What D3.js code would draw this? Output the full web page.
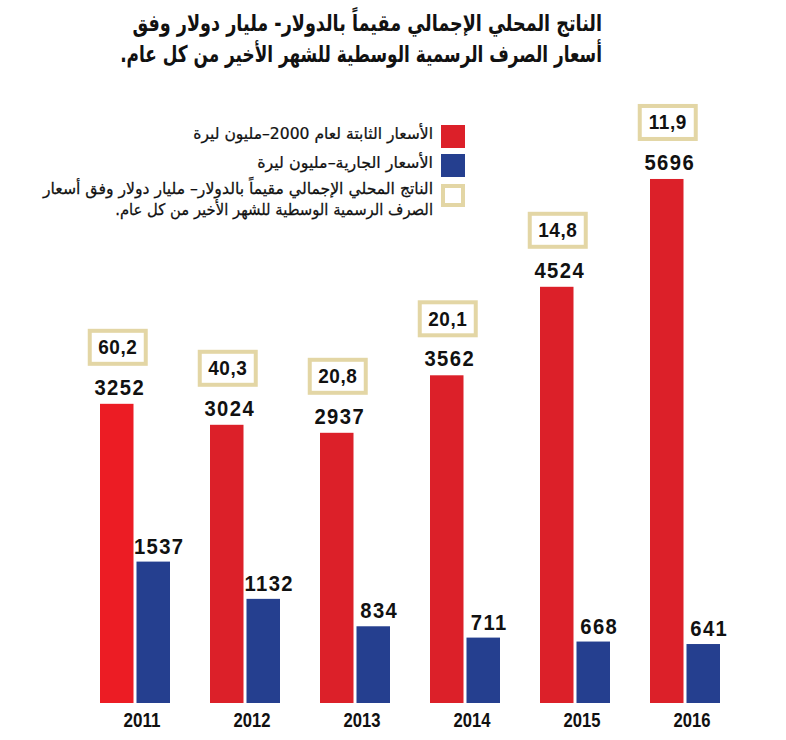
<!DOCTYPE html>
<html><head><meta charset="utf-8">
<script src="https://cdn.jsdelivr.net/npm/d3@7"></script>
<style>
html,body{margin:0;padding:0;background:#fff;}
svg{display:block;}
</style></head>
<body>
<svg id="chart" width="786" height="740"></svg>
<script>
const years = ["2011","2012","2013","2014","2015","2016"];
const constPrices = [3252, 3024, 2937, 3562, 4524, 5696];
const currentPrices = [1537, 1132, 834, 711, 668, 641];
const gdpUsd = [60.2, 40.3, 20.8, 20.1, 14.8, 11.9];
const titleLines = [
  "الناتج المحلي الإجمالي مقيماً بالدولار- مليار دولار وفق",
  "أسعار الصرف الرسمية الوسطية للشهر الأخير من كل عام."
];
const legendLabels = [
  "الأسعار الثابتة لعام 2000–مليون ليرة",
  "الأسعار الجارية–مليون ليرة",
  "الناتج المحلي الإجمالي مقيماً بالدولار– مليار دولار وفق أسعار",
  "الصرف الرسمية الوسطية للشهر الأخير من كل عام."
];

const RED = "#dc2029", RED_FIRST = "#ec1c24", BLUE = "#253f8f", BEIGE = "#e3d6a5";
const numFont = "'Liberation Sans',Arial,sans-serif";
const arFont = "'DejaVu Sans',sans-serif";

const svg = d3.select("#chart");

const x = d3.scaleBand().domain(years).range([100, 720]).paddingInner(40/110).paddingOuter(0);
const xs = d3.scaleBand().domain(["c","k"]).range([0, x.bandwidth()]).paddingInner(3/36.5);
const y = d3.scaleLinear().domain([0, 6000]).range([703, 151]);

function fitRight(sel, xr, target){
  sel.each(function(){
    const w = this.getBBox().width;
    if (w > 0) d3.select(this).attr("transform", `translate(${xr},0) scale(${target/w},1) translate(${-xr},0)`);
  });
}
// condense numbers horizontally around their centre
function squeeze(sel, factor){
  sel.each(function(){
    const b = this.getBBox();
    const cx = b.x + b.width/2;
    d3.select(this).attr("transform", `translate(${cx},0) scale(${factor},1) translate(${-cx},0)`);
  });
}

// Title
const titleTargets = [470, 482];
const titleY = [31, 62];
titleLines.forEach((t, i) => {
  const tx = svg.append("text")
    .attr("x", 602).attr("y", titleY[i])
    .attr("direction", "rtl").attr("text-anchor", "start")
    .attr("font-family", arFont).attr("font-weight", "bold")
    .attr("font-size", 23).attr("fill", "#111")
    .text(t);
  fitRight(tx, 602, titleTargets[i]);
});

// Legend
const lg = svg.append("g");
lg.append("rect").attr("x", 441).attr("y", 125).attr("width", 24).attr("height", 23).attr("fill", RED);
lg.append("rect").attr("x", 441).attr("y", 154).attr("width", 24).attr("height", 23).attr("fill", BLUE);
lg.append("rect").attr("x", 443).attr("y", 186).attr("width", 20).attr("height", 19)
  .attr("fill", "#fff").attr("stroke", BEIGE).attr("stroke-width", 4);
const legY = [139, 168, 194, 215];
const legTargets = [240, 176, 391, 318];
legendLabels.forEach((t, i) => {
  const tx = lg.append("text")
    .attr("x", 433).attr("y", legY[i])
    .attr("direction", "rtl").attr("text-anchor", "start")
    .attr("font-family", arFont).attr("font-size", 16).attr("fill", "#111")
    .attr("stroke", "#111").attr("stroke-width", 0.25)
    .text(t);
  fitRight(tx, 433, legTargets[i]);
});

// Bars
const groups = svg.append("g").selectAll("g").data(years).join("g")
  .attr("transform", d => `translate(${x(d)},0)`);

groups.append("rect")
  .attr("x", xs("c")).attr("width", xs.bandwidth())
  .attr("y", (d, i) => y(constPrices[i]))
  .attr("height", (d, i) => y(0) - y(constPrices[i]))
  .attr("fill", (d, i) => i === 0 ? RED_FIRST : RED);

groups.append("rect")
  .attr("x", xs("k")).attr("width", xs.bandwidth())
  .attr("y", (d, i) => y(currentPrices[i]))
  .attr("height", (d, i) => y(0) - y(currentPrices[i]))
  .attr("fill", BLUE);

// value labels
groups.append("text")
  .attr("x", xs("c") + xs.bandwidth()/2 + 3)
  .attr("y", (d, i) => y(constPrices[i]) - 9)
  .attr("text-anchor", "middle")
  .attr("font-family", numFont).attr("font-weight", "bold")
  .attr("font-size", 22).attr("letter-spacing", 1.5).attr("fill", "#111")
  .text((d, i) => constPrices[i])
  .call(squeeze, 0.92);

groups.append("text")
  .attr("x", xs("k") + xs.bandwidth()/2 + 6)
  .attr("y", (d, i) => y(currentPrices[i]) - 8)
  .attr("text-anchor", "middle")
  .attr("font-family", numFont).attr("font-weight", "bold")
  .attr("font-size", 22).attr("letter-spacing", 1.5).attr("fill", "#111")
  .text((d, i) => currentPrices[i])
  .call(squeeze, 0.92);

// GDP USD boxes
const fmt = v => d3.format(".1f")(v).replace(".", ",");
const boxW = 56, boxH = 33;
groups.append("rect")
  .attr("x", xs("c") + xs.bandwidth()/2 + 1 - boxW/2)
  .attr("y", (d, i) => y(constPrices[i]) - 40 - boxH)
  .attr("width", boxW).attr("height", boxH)
  .attr("fill", "#fff").attr("stroke", BEIGE).attr("stroke-width", 4);

groups.append("text")
  .attr("x", xs("c") + xs.bandwidth()/2 + 1)
  .attr("y", (d, i) => y(constPrices[i]) - 40 - boxH/2 + 7)
  .attr("text-anchor", "middle")
  .attr("font-family", numFont).attr("font-weight", "bold")
  .attr("font-size", 20).attr("letter-spacing", 0.5).attr("fill", "#111")
  .text((d, i) => fmt(gdpUsd[i]))
  .call(squeeze, 0.95);

// x axis labels
const xAxis = d3.axisBottom(x).tickSize(0).tickPadding(0);
const ax = svg.append("g").attr("transform", `translate(7,${y(0)})`).call(xAxis);
ax.select(".domain").remove();
ax.selectAll("text")
  .attr("y", 24).attr("dy", 0)
  .attr("font-family", numFont).attr("font-weight", "bold")
  .attr("font-size", 19.5).attr("fill", "#111")
  .attr("textLength", 37).attr("lengthAdjust", "spacingAndGlyphs");
</script>
</body></html>
